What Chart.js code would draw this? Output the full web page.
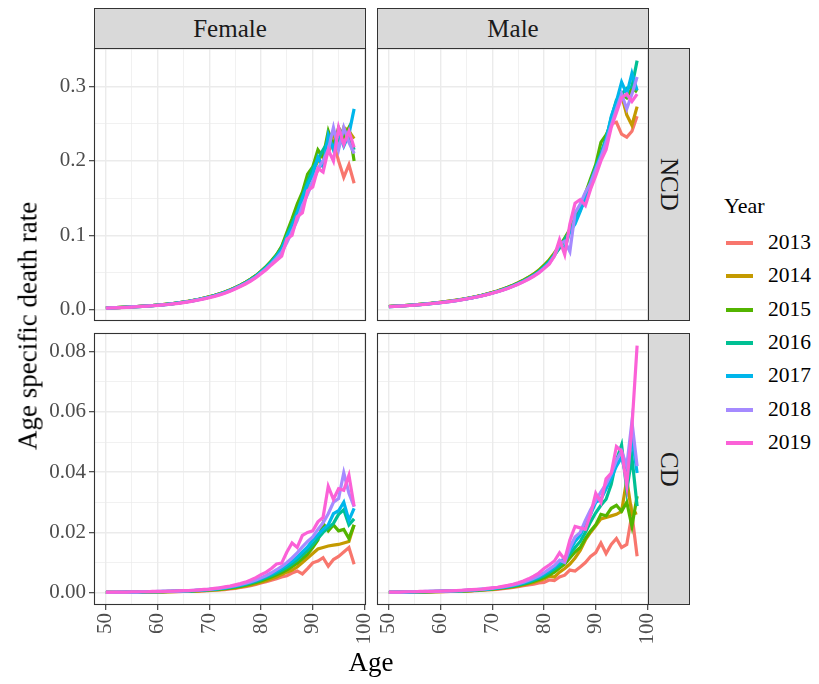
<!DOCTYPE html>
<html>
<head>
<meta charset="utf-8">
<script src="https://cdn.jsdelivr.net/npm/chart.js@4.4.1/dist/chart.umd.min.js"></script>
<style>
    body { margin: 0; background: #fff; font-family: "Liberation Serif", "Times New Roman", Times, "DejaVu Serif", "Noto Serif", serif; }
    #wrap { position: relative; width: 819px; height: 684px; overflow: hidden; }
    #wrap canvas { position: absolute; }
    .strip { position: absolute; box-sizing: border-box; background: #d9d9d9; border: 1px solid #333;
        color: #1a1a1a; font-size: 25px; display: flex; align-items: center; justify-content: center; }
    .strip.v span { writing-mode: vertical-rl; }
    .ttl { position: absolute; color: #000; font-size: 27px; white-space: nowrap; }
    .leg-title { position: absolute; left: 724px; top: 193px; font-size: 22px; }
    .leg-item { position: absolute; left: 726px; height: 30px; font-size: 21.5px; }
    .leg-item i { position: absolute; left: 0; top: 13px; width: 27px; height: 4px; }
    .leg-item b { position: absolute; left: 42px; top: 2px; font-weight: normal; color: #000; }
</style>
</head>
<body>
<div id="wrap">
    <canvas id="c_tl" width="380" height="325" style="left:0;top:0"></canvas>
    <canvas id="c_tr" width="305" height="325" style="left:360px;top:0"></canvas>
    <canvas id="c_bl" width="380" height="359" style="left:0;top:325px"></canvas>
    <canvas id="c_br" width="305" height="359" style="left:360px;top:325px"></canvas>

    <div class="strip" style="left:94px;top:8px;width:272px;height:41px">Female</div>
    <div class="strip" style="left:377px;top:8px;width:272px;height:41px">Male</div>
    <div class="strip v" style="left:648px;top:48px;width:42px;height:273px"><span>NCD</span></div>
    <div class="strip v" style="left:648px;top:333px;width:42px;height:272px"><span>CD</span></div>

    <div class="ttl" style="left:371px;top:662px;transform:translate(-50%,-50%)">Age</div>
    <div class="ttl" style="left:28px;top:326px;transform:translate(-50%,-50%) rotate(-90deg)">Age specific death rate</div>

    <div class="leg-title">Year</div>
    <div id="legend"></div>
</div>
<script>
// 数据
var ages = [50, 51, 52, 53, 54, 55, 56, 57, 58, 59, 60, 61, 62, 63, 64, 65, 66, 67, 68, 69,
    70, 71, 72, 73, 74, 75, 76, 77, 78, 79, 80, 81, 82, 83, 84, 85, 86, 87, 88, 89,
    90, 91, 92, 93, 94, 95, 96, 97, 98];
var years = ['2013', '2014', '2015', '2016', '2017', '2018', '2019'];
var yearColors = ['#F8766D', '#C49A00', '#53B400', '#00C094', '#00B6EB', '#A58AFF', '#FB61D7'];

var ageTicks = [50, 60, 70, 80, 90, 100];
var ageMinor = [55, 65, 75, 85, 95];
var ncdTicks = [0, 0.1, 0.2, 0.3];
var ncdLabels = ['0.0', '0.1', '0.2', '0.3'];
var ncdMinor = [0.05, 0.15, 0.25, 0.35];
var cdTicks = [0, 0.02, 0.04, 0.06, 0.08];
var cdLabels = ['0.00', '0.02', '0.04', '0.06', '0.08'];
var cdMinor = [0.01, 0.03, 0.05, 0.07];

// Female NCD, one row per year
var femaleNCD = [
    [.0021,.0023,.0026,.0029,.0032,.0036,.0040,.0044,.0049,.0054,.0059,.0066,.0073,.0081,.0090,.0100,.0111,.0124,.0138,.0153,
     .0170,.0189,.0211,.0235,.0262,.0293,.0327,.0365,.0406,.0452,.0510,.0572,.0642,.0725,.0850,
     .100,.118,.135,.138,.158,.172,.188,.200,.212,.225,.200,.178,.195,.170],
    [.0021,.0023,.0026,.0029,.0032,.0036,.0040,.0044,.0049,.0054,.0060,.0066,.0073,.0081,.0090,.0100,.0112,.0124,.0138,.0154,
     .0171,.0190,.0212,.0236,.0264,.0294,.0328,.0366,.0408,.0455,.0512,.0575,.0648,.0730,.0830,
     .098,.112,.135,.150,.168,.185,.200,.210,.225,.235,.220,.245,.240,.230],
    [.0020,.0022,.0025,.0028,.0031,.0035,.0039,.0043,.0048,.0053,.0059,.0065,.0072,.0080,.0089,.0099,.0110,.0123,.0137,.0153,
     .0170,.0189,.0210,.0235,.0263,.0294,.0328,.0366,.0408,.0456,.0515,.0580,.0655,.0740,.0850,
     .104,.122,.142,.158,.182,.192,.215,.205,.240,.220,.245,.232,.245,.200],
    [.0020,.0022,.0025,.0028,.0031,.0035,.0039,.0043,.0048,.0053,.0058,.0064,.0071,.0079,.0088,.0098,.0109,.0122,.0136,.0151,
     .0168,.0187,.0208,.0232,.0260,.0290,.0324,.0361,.0403,.0450,.0508,.0570,.0642,.0725,.0830,
     .099,.116,.132,.152,.172,.190,.202,.215,.226,.240,.226,.240,.236,.215],
    [.0019,.0021,.0024,.0027,.0030,.0034,.0038,.0042,.0047,.0052,.0057,.0063,.0070,.0078,.0087,.0097,.0108,.0120,.0134,.0149,
     .0165,.0184,.0205,.0229,.0256,.0286,.0319,.0356,.0397,.0443,.0500,.0562,.0632,.0712,.0810,
     .098,.112,.130,.150,.168,.182,.205,.192,.235,.215,.240,.220,.236,.270],
    [.0019,.0021,.0024,.0027,.0030,.0034,.0038,.0042,.0046,.0051,.0056,.0062,.0069,.0077,.0086,.0096,.0107,.0119,.0133,.0148,
     .0164,.0182,.0203,.0226,.0253,.0283,.0316,.0352,.0392,.0436,.0490,.0550,.0615,.0690,.0770,
     .090,.105,.120,.140,.155,.172,.190,.200,.215,.245,.215,.245,.225,.210],
    [.0019,.0021,.0023,.0026,.0029,.0033,.0037,.0041,.0045,.0050,.0055,.0061,.0067,.0075,.0083,.0093,.0103,.0115,.0128,.0142,
     .0158,.0176,.0196,.0219,.0245,.0275,.0307,.0343,.0383,.0428,.0480,.0535,.0600,.0660,.0720,
     .095,.100,.125,.130,.160,.165,.190,.185,.215,.200,.245,.222,.240,.218]
];

// Male NCD
var maleNCD = [
    [.0040,.0044,.0048,.0052,.0057,.0062,.0068,.0074,.0081,.0088,.0096,.0105,.0114,.0124,.0135,.0147,.0160,.0175,.0191,.0208,
     .0227,.0248,.0271,.0297,.0325,.0356,.0390,.0428,.0471,.0522,.0585,.0655,.0738,.0830,.0940,
     .1060,.1190,.1340,.1500,.1680,.1870,.2060,.2320,.2500,.2520,.2360,.2320,.2400,.2600],
    [.0041,.0045,.0049,.0053,.0058,.0063,.0069,.0075,.0082,.0089,.0097,.0106,.0115,.0125,.0136,.0148,.0162,.0176,.0192,.0210,
     .0229,.0250,.0274,.0300,.0328,.0360,.0395,.0434,.0478,.0530,.0595,.0670,.0760,.0860,.0950,
     .1050,.1220,.1340,.1520,.1720,.1900,.2080,.2280,.2480,.2700,.2880,.2620,.2480,.2730],
    [.0040,.0044,.0048,.0052,.0057,.0062,.0068,.0074,.0081,.0088,.0096,.0105,.0114,.0124,.0135,.0147,.0160,.0175,.0191,.0208,
     .0227,.0248,.0272,.0298,.0327,.0358,.0393,.0431,.0474,.0525,.0590,.0662,.0748,.0850,.0960,
     .1080,.1230,.1380,.1560,.1760,.1950,.2250,.2350,.2500,.2780,.2900,.2850,.2980,.2930],
    [.0039,.0043,.0047,.0051,.0056,.0061,.0066,.0072,.0079,.0086,.0094,.0102,.0111,.0121,.0132,.0144,.0157,.0171,.0187,.0204,
     .0222,.0243,.0266,.0291,.0319,.0350,.0384,.0421,.0463,.0512,.0575,.0648,.0730,.0830,.0940,
     .1060,.1200,.1360,.1530,.1720,.1920,.2100,.2300,.2580,.2820,.2900,.2980,.3000,.3350],
    [.0038,.0042,.0046,.0050,.0055,.0060,.0065,.0071,.0078,.0085,.0093,.0101,.0110,.0120,.0131,.0143,.0156,.0170,.0186,.0203,
     .0221,.0241,.0264,.0289,.0316,.0346,.0379,.0416,.0458,.0505,.0565,.0630,.0740,.0880,.0820,
     .1050,.1150,.1320,.1500,.1700,.1900,.2080,.2280,.2600,.2800,.3060,.2900,.3180,.2950],
    [.0038,.0042,.0046,.0050,.0055,.0060,.0065,.0071,.0078,.0085,.0093,.0101,.0110,.0120,.0131,.0143,.0156,.0170,.0185,.0202,
     .0220,.0240,.0262,.0287,.0314,.0343,.0375,.0411,.0451,.0497,.0555,.0620,.0720,.0880,.0920,
     .0780,.1300,.1420,.1580,.1700,.1880,.2050,.2250,.2480,.2700,.2900,.2700,.2900,.3130],
    [.0037,.0041,.0045,.0049,.0054,.0059,.0064,.0070,.0077,.0084,.0092,.0100,.0109,.0118,.0129,.0141,.0154,.0168,.0183,.0200,
     .0218,.0238,.0260,.0284,.0311,.0340,.0372,.0407,.0447,.0492,.0550,.0610,.0720,.0940,.0740,
     .1150,.1430,.1480,.1400,.1620,.1800,.2000,.2150,.2450,.2650,.2850,.2900,.2800,.2900]
];

// Female CD
var femaleCD = [
    [.0001,.0001,.0001,.0001,.0001,.0001,.0002,.0002,.0002,.0002,.0002,.0002,.0003,.0003,.0003,.0004,.0004,.0005,.0005,.0006,
     .0007,.0008,.0009,.0010,.0012,.0014,.0017,.0020,.0023,.0027,.0032,.0036,.0041,.0046,.0052,
     .0056,.0065,.0072,.0062,.0080,.0099,.0105,.0116,.0088,.0110,.0120,.0135,.0150,.0094],
    [.0001,.0001,.0001,.0001,.0001,.0002,.0002,.0002,.0002,.0002,.0003,.0003,.0003,.0003,.0004,.0004,.0005,.0005,.0006,.0007,
     .0008,.0009,.0010,.0012,.0014,.0016,.0019,.0022,.0026,.0030,.0035,.0040,.0046,.0052,.0060,
     .0068,.0075,.0085,.0100,.0115,.0130,.0145,.0150,.0155,.0158,.0160,.0165,.0170,.0225],
    [.0001,.0001,.0001,.0001,.0002,.0002,.0002,.0002,.0002,.0003,.0003,.0003,.0003,.0004,.0004,.0005,.0005,.0006,.0007,.0008,
     .0009,.0010,.0011,.0013,.0015,.0018,.0021,.0025,.0029,.0034,.0039,.0045,.0052,.0059,.0067,
     .0076,.0086,.0098,.0112,.0128,.0150,.0175,.0230,.0205,.0225,.0205,.0210,.0180,.0225],
    [.0001,.0001,.0001,.0001,.0002,.0002,.0002,.0002,.0003,.0003,.0003,.0003,.0004,.0004,.0005,.0005,.0006,.0007,.0008,.0009,
     .0010,.0011,.0013,.0015,.0017,.0020,.0023,.0027,.0032,.0037,.0043,.0050,.0057,.0065,.0074,
     .0084,.0095,.0108,.0125,.0140,.0160,.0180,.0200,.0215,.0230,.0260,.0275,.0225,.0245],
    [.0001,.0001,.0001,.0002,.0002,.0002,.0002,.0003,.0003,.0003,.0003,.0004,.0004,.0005,.0005,.0006,.0006,.0007,.0008,.0009,
     .0011,.0012,.0014,.0016,.0019,.0022,.0025,.0030,.0035,.0040,.0047,.0054,.0062,.0071,.0081,
     .0092,.0104,.0118,.0135,.0152,.0175,.0192,.0210,.0225,.0262,.0272,.0300,.0240,.0280],
    [.0001,.0001,.0002,.0002,.0002,.0002,.0002,.0003,.0003,.0003,.0004,.0004,.0004,.0005,.0005,.0006,.0007,.0008,.0009,.0010,
     .0011,.0013,.0015,.0017,.0020,.0023,.0027,.0031,.0036,.0042,.0049,.0057,.0066,.0076,.0087,
     .0100,.0115,.0132,.0152,.0170,.0185,.0210,.0232,.0262,.0300,.0312,.0398,.0330,.0285],
    [.0002,.0002,.0002,.0002,.0002,.0003,.0003,.0003,.0003,.0004,.0004,.0004,.0005,.0005,.0006,.0007,.0007,.0008,.0009,.0011,
     .0012,.0014,.0016,.0019,.0022,.0026,.0030,.0035,.0042,.0050,.0060,.0068,.0080,.0095,.0098,
     .0135,.0165,.0150,.0190,.0200,.0205,.0235,.0250,.0353,.0310,.0345,.0340,.0390,.0287]
];

// Male CD
var maleCD = [
    [.0001,.0001,.0001,.0001,.0001,.0002,.0002,.0002,.0002,.0003,.0003,.0003,.0004,.0004,.0005,.0005,.0006,.0007,.0008,.0009,
     .0010,.0011,.0013,.0015,.0017,.0020,.0023,.0026,.0028,.0032,.0034,.0042,.0040,.0052,.0058,
     .0075,.0072,.0085,.0100,.0120,.0133,.0165,.0130,.0160,.0180,.0150,.0160,.0260,.0121],
    [.0001,.0001,.0001,.0001,.0002,.0002,.0002,.0002,.0003,.0003,.0003,.0004,.0004,.0005,.0005,.0006,.0007,.0008,.0009,.0010,
     .0011,.0013,.0015,.0017,.0019,.0022,.0026,.0030,.0034,.0040,.0045,.0055,.0052,.0068,.0080,
     .0095,.0115,.0140,.0175,.0200,.0222,.0245,.0250,.0255,.0260,.0270,.0375,.0260,.0265],
    [.0001,.0001,.0001,.0002,.0002,.0002,.0002,.0003,.0003,.0003,.0004,.0004,.0005,.0005,.0006,.0006,.0007,.0008,.0009,.0011,
     .0012,.0014,.0016,.0018,.0021,.0024,.0028,.0032,.0038,.0044,.0050,.0058,.0068,.0082,.0095,
     .0115,.0135,.0150,.0180,.0205,.0225,.0260,.0255,.0280,.0290,.0270,.0300,.0220,.0320],
    [.0001,.0001,.0002,.0002,.0002,.0002,.0003,.0003,.0003,.0004,.0004,.0005,.0005,.0006,.0006,.0007,.0008,.0009,.0010,.0011,
     .0013,.0015,.0017,.0019,.0022,.0026,.0030,.0035,.0041,.0048,.0056,.0066,.0078,.0090,.0105,
     .0128,.0150,.0170,.0200,.0235,.0265,.0290,.0310,.0360,.0440,.0490,.0340,.0450,.0287],
    [.0001,.0002,.0002,.0002,.0002,.0003,.0003,.0003,.0004,.0004,.0005,.0005,.0006,.0006,.0007,.0008,.0009,.0010,.0011,.0012,
     .0014,.0016,.0018,.0021,.0024,.0028,.0033,.0038,.0045,.0052,.0062,.0072,.0085,.0100,.0115,
     .0140,.0170,.0190,.0225,.0260,.0300,.0310,.0345,.0380,.0420,.0450,.0380,.0520,.0397],
    [.0002,.0002,.0002,.0002,.0003,.0003,.0003,.0004,.0004,.0004,.0005,.0005,.0006,.0007,.0007,.0008,.0009,.0010,.0012,.0013,
     .0015,.0017,.0019,.0022,.0026,.0030,.0035,.0041,.0048,.0056,.0066,.0078,.0090,.0108,.0100,
     .0150,.0185,.0200,.0240,.0275,.0305,.0335,.0360,.0395,.0440,.0470,.0420,.0568,.0420],
    [.0002,.0002,.0002,.0003,.0003,.0003,.0004,.0004,.0004,.0005,.0005,.0006,.0006,.0007,.0008,.0009,.0010,.0011,.0012,.0014,
     .0016,.0018,.0021,.0024,.0028,.0033,.0039,.0046,.0055,.0065,.0080,.0092,.0105,.0132,.0110,
     .0175,.0220,.0215,.0210,.0260,.0330,.0300,.0378,.0397,.0485,.0470,.0355,.0550,.0820]
];

(function () {
    var tickFont = { family: '"Liberation Serif", "Times New Roman", Times, "DejaVu Serif", serif', size: 21 };

    // 面板边框
    var panelBorder = {
        id: 'panelBorder',
        afterDraw: function (chart) {
            var a = chart.chartArea, c = chart.ctx;
            c.save();
            c.strokeStyle = '#333333';
            c.lineWidth = 1.1;
            c.strokeRect(a.left + 0.5, a.top + 0.5, a.right - a.left - 1, a.bottom - a.top - 1);
            c.restore();
        }
    };

    function inList(list, v) {
        for (var i = 0; i < list.length; i++) {
            if (Math.abs(list[i] - v) < 1e-9) return i;
        }
        return -1;
    }

    function makeScale(major, labels, minor, min, max, showLabels, fitSize, isX) {
        return {
            type: 'linear',
            min: min,
            max: max,
            afterBuildTicks: function (scale) {
                scale.ticks = major.concat(minor).sort(function (a, b) { return a - b })
                    .map(function (v) { return { value: v } });
            },
            afterFit: function (scale) {
                // 固定轴的尺寸，不让标签改变面板位置
                if (isX) { scale.height = fitSize } else { scale.width = fitSize }
                scale.paddingLeft = scale.paddingRight = scale.paddingTop = scale.paddingBottom = 0;
            },
            ticks: {
                display: showLabels,
                autoSkip: false,
                maxRotation: 90,
                minRotation: isX ? 90 : 0,
                padding: 3,
                color: '#4d4d4d',
                font: tickFont,
                callback: function (v) {
                    var i = inList(major, v);
                    return i >= 0 ? labels[i] : '';
                }
            },
            grid: {
                color: '#ebebeb',
                lineWidth: function (ctx) { return inList(major, ctx.tick.value) >= 0 ? 1.4 : 0.7 },
                drawTicks: showLabels,
                tickLength: 5,
                tickWidth: 1.1,
                tickColor: function (ctx) { return inList(major, ctx.tick.value) >= 0 ? '#333333' : 'rgba(0,0,0,0)' }
            },
            border: { display: false }
        };
    }

    function rendPanel(id, rows, yKind, showX, showY, pad) {
        var datasets = rows.map(function (vals, i) {
            return {
                label: years[i],
                data: vals.map(function (v, k) { return { x: ages[k], y: v } }),
                borderColor: yearColors[i],
                borderWidth: 3.2,
                pointRadius: 0,
                tension: 0,
                order: years.length - i
            };
        });
        var yCfg = yKind === 'ncd'
            ? makeScale(ncdTicks, ncdLabels, ncdMinor, -0.0155, 0.352, showY, showY ? 94 : 0, false)
            : makeScale(cdTicks, cdLabels, cdMinor, -0.0041, 0.0862, showY, showY ? 94 : 0, false);
        var xCfg = makeScale(ageTicks, ageTicks.map(String), ageMinor, 47.7, 100.3, showX, showX ? 40 : 0, true);

        return new Chart(document.getElementById(id).getContext('2d'), {
            type: 'line',
            data: { datasets: datasets },
            options: {
                responsive: false,
                animation: false,
                events: [],
                layout: { autoPadding: false, padding: pad },
                scales: { x: xCfg, y: yCfg },
                plugins: { legend: { display: false }, tooltip: { enabled: false } }
            },
            plugins: [panelBorder]
        });
    }

    rendPanel('c_tl', femaleNCD, 'ncd', false, true, { left: 0, right: 14, top: 48, bottom: 4 });
    rendPanel('c_tr', maleNCD, 'ncd', false, false, { left: 17, right: 16, top: 48, bottom: 4 });
    rendPanel('c_bl', femaleCD, 'cd', true, true, { left: 0, right: 14, top: 8, bottom: 39 });
    rendPanel('c_br', maleCD, 'cd', true, false, { left: 17, right: 16, top: 8, bottom: 39 });

    // 图例
    var html = '';
    years.forEach(function (y, i) {
        html += '<div class="leg-item" style="top:' + (228 + i * 33.3) + 'px"><i style="background:' +
            yearColors[i] + '"></i><b>' + y + '</b></div>';
    });
    document.getElementById('legend').innerHTML = html;
}());
</script>
</body>
</html>
